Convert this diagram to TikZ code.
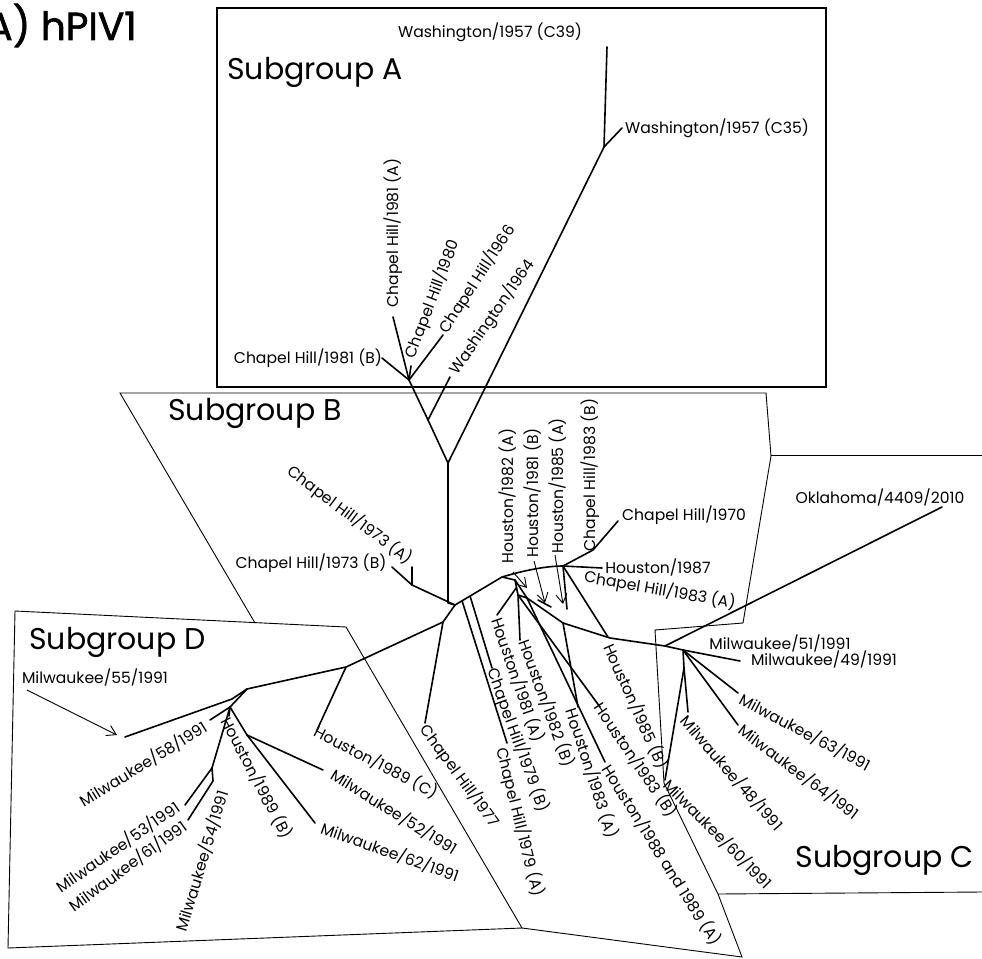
\documentclass[tikz,border=0pt]{standalone}
\usepackage{fontspec}
\setmainfont{Poppins}
\newfontfamily\titlefont{Poppins}[FakeBold=1.6]
\usetikzlibrary{arrows.meta,calc}
\begin{document}
\begin{tikzpicture}[x=1pt,y=-1pt,
  br/.style={line width=1.6pt,line cap=round,line join=round},
  poly/.style={line width=0.9pt,line join=miter},
  boxA/.style={line width=2.6pt},
  lab/.style={inner sep=0pt,font=\fontsize{15.6}{17}\selectfont},
  sg/.style={inner sep=0pt,anchor=base west,font=\fontsize{30}{34}\selectfont},
  arr/.style={line width=0.9pt,-{Straight Barb[length=9pt,width=11pt]}}]
\useasboundingbox (0,0) rectangle (982,958);
\fill[white] (0,0) rectangle (982,958);

% ---------- region outlines ----------
\draw[boxA] (217,8) rectangle (826,387);
\draw[poly] (255,623) -- (120,393) -- (766,393) -- (771,456) -- (743,623) -- (655,630) -- (664,783) -- (718,894) -- (742,957) -- (522,928);
\draw[poly] (771,455) -- (982,455);
\draw[poly] (718,894) -- (982,892);
\draw[poly] (15,611) -- (346,627) -- (522,928) -- (8,948) -- cycle;

% ---------- coordinates ----------
\coordinate (a39) at (607,47);
\coordinate (aW) at (604,147);
\coordinate (a35) at (622,128);
\coordinate (Y) at (448,463);
\coordinate (a64n) at (428,420);
\coordinate (a64) at (450,377);
\coordinate (aN) at (409,380);
\coordinate (a81B) at (382,358);
\coordinate (a81A) at (393,317);
\coordinate (a66) at (443,335);
\coordinate (a80) at (411,366);
\coordinate (c0top) at (448,603);
\coordinate (C0) at (455,605);
\coordinate (b73) at (412,585);
\coordinate (b73B) at (392,567);
\coordinate (b73A) at (412,567);
\coordinate (h1) at (502,577);
\coordinate (hN) at (563,566);
\coordinate (b83B) at (593,550);
\coordinate (b70) at (618,521);
\coordinate (h87) at (602,568);
\coordinate (h85A) at (567,609);
\coordinate (h85B) at (608,637);
\coordinate (hT1) at (515,580);
\coordinate (hT2) at (518,595);
\coordinate (hT3) at (527,598);
\coordinate (hM) at ($(hT1)!0.5!(hT2)$);
\coordinate (h81A) at (497,615);
\coordinate (h82B) at (520,640);
\coordinate (h83B) at (600,707);
\coordinate (h88) at (605,762);
\coordinate (m1) at (563,623);
\coordinate (h83A) at (578,707);
\coordinate (h81Ba) at (538,600);
\coordinate (h81Bb) at (551,607);
\coordinate (m2) at (610,638);
\coordinate (cN) at (665,646);
\coordinate (cN2) at (683,650);
\coordinate (okl) at (942,507);
\coordinate (m49) at (740,661);
\coordinate (m63) at (738,693);
\coordinate (m64) at (738,725);
\coordinate (cN3) at (684,668);
\coordinate (m48) at (688,712);
\coordinate (m60) at (665,780);
\coordinate (c79An) at ($(C0)!0.15!(h1)$);
\coordinate (c79Bn) at ($(C0)!0.32!(h1)$);
\coordinate (c79A) at (507,743);
\coordinate (c79B) at (492,668);
\coordinate (dN) at (443,622);
\coordinate (c77) at (425,723);
\coordinate (d89n) at (346,667);
\coordinate (d89C) at (317,730);
\coordinate (dD) at (247,689);
\coordinate (d1) at (232,699);
\coordinate (m55) at (125,737);
\coordinate (d2) at (230,707);
\coordinate (m58) at (210,720);
\coordinate (d3) at (212,768);
\coordinate (m53) at (185,805);
\coordinate (d4) at (213,781);
\coordinate (m61) at (188,820);
\coordinate (d5) at (247,735);
\coordinate (m62) at (315,823);
\coordinate (m52) at (323,770);
\coordinate (h89B) at (229,716);

% ---------- branches ----------
\draw[br] (a39) -- (aW) -- (Y);
\draw[br] (aW) -- (a35);
\draw[br] (Y) -- (a64n) -- (aN);
\draw[br] (a64n) -- (a64);
\draw[br] (aN) -- (a81B);
\draw[br] (aN) -- (a81A);
\draw[br] (aN) -- (a66);
\draw[br] (aN) -- (a80);
\draw[br] (Y) -- (c0top) -- (C0);
\draw[br] (C0) -- (b73) -- (b73B);
\draw[br] (b73) -- (b73A);
\draw[br] (C0) -- (h1) .. controls (522,571) and (545,566) .. (hN);
\draw[br] (hN) -- (b83B) -- (b70);
\draw[br] (hN) -- (h87);
\draw[br] (hN) -- (h85A);
\draw[br] (hN) -- (h85B);
\draw[br] (h1) -- (hT1) -- (hT3);
\draw[br] (hT1) -- (hT2) -- (hT3);
\draw[br] (hM) -- (h81A);
\draw[br] (hT2) -- (h82B);
\draw[br] (hT2) -- (h83B);
\draw[br] (hT3) -- (h88);
\draw[br] (hT3) -- (m1) -- (m2) -- (cN) -- (cN2);
\draw[br] (m1) -- (h83A);
\draw[br] (h81Ba) -- (h81Bb);
\draw[br] (cN) -- (okl);
\draw[br] (cN2) -- (m49);
\draw[br] (cN2) -- (m63);
\draw[br] (cN2) -- (m64);
\draw[br] (cN2) -- (cN3) -- (m48);
\draw[br] (cN3) -- (m60);
\draw[br] (c79An) -- (c79A);
\draw[br] (c79Bn) -- (c79B);
\draw[br] (C0) -- (dN) -- (c77);
\draw[br] (dN) -- (d89n) -- (dD);
\draw[br] (d89n) -- (d89C);
\draw[br] (dD) -- (d1) -- (m55);
\draw[br] (dD) -- (d2) -- (m58);
\draw[br] (d2) -- (d3) -- (m53);
\draw[br] (d3) -- (d4) -- (m61);
\draw[br] (d2) -- (d5) -- (m62);
\draw[br] (d5) -- (m52);
\draw[br] (d2) -- (h89B);

% ---------- arrows ----------
\coordinate (r1s) at (513,572); \coordinate (r1e) at (527,588);
\coordinate (r2s) at (534,561); \coordinate (r2e) at (545,603);
\coordinate (r3s) at (555,555); \coordinate (r3e) at (563,604);
\coordinate (r4s) at (27,690);  \coordinate (r4e) at (117,735);
\draw[arr] (r1s) -- (r1e);
\draw[arr] (r2s) -- (r2e);
\draw[arr] (r3s) -- (r3e);
\draw[arr] (r4s) -- (r4e);

% ---------- titles ----------
\node[inner sep=0pt,anchor=base east,font=\titlefont\fontsize{39}{42}\selectfont] (title) at (137,40) {A) hPIV1};
\node[sg] (sgA) at (227,80) {Subgroup A};
\node[sg] (sgB) at (168,420) {Subgroup B};
\node[sg,anchor=base east] (sgC) at (974,867) {Subgroup C};
\node[sg] (sgD) at (29,649) {Subgroup D};

% ---------- labels: subgroup A ----------
\node[lab] (tW39) at (490,32) {Washington/1957 (C39)};
\node[lab,anchor=west] (tW35) at (625,128) {Washington/1957 (C35)};
\node[lab,rotate=90] (tC81A) at (393,233) {Chapel Hill/1981 (A)};
\node[lab,rotate=69] (tC80) at (432,299) {Chapel Hill/1980};
\node[lab,rotate=57] (tC66) at (477,279) {Chapel Hill/1966};
\node[lab,rotate=55] (tW64) at (492,317) {Washington/1964};
\node[lab] (tC81B) at (308,358) {Chapel Hill/1981 (B)};

% ---------- labels: subgroup B ----------
\node[lab,rotate=-37] (tC73A) at (350,515) {Chapel Hill/1973 (A)};
\node[lab] (tC73B) at (311,563) {Chapel Hill/1973 (B)};
\node[lab,rotate=90] (tH82A) at (508,496) {Houston/1982 (A)};
\node[lab,rotate=90] (tH81B) at (533,493) {Houston/1981 (B)};
\node[lab,rotate=90] (tH85A) at (558,486) {Houston/1985 (A)};
\node[lab,rotate=90] (tC83B) at (590,475) {Chapel Hill/1983 (B)};
\node[lab] (tC70) at (684,515) {Chapel Hill/1970};
\node[lab] (tH87) at (658,567) {Houston/1987};
\node[lab,rotate=-10] (tC83A) at (660,590) {Chapel Hill/1983 (A)};
\node[lab,rotate=-71] (tH81A) at (518,680) {Houston/1981 (A)};
\node[lab,rotate=-70] (tH82B) at (547,703) {Houston/1982 (B)};
\node[lab,rotate=-70] (tC79B) at (518,740) {Chapel Hill/1979 (B)};
\node[lab,rotate=-76] (tC79A) at (520,822) {Chapel Hill/1979 (A)};
\node[lab,rotate=-72] (tH83A) at (592,773) {Houston/1983 (A)};
\node[lab,rotate=-56] (tH83B) at (636,760) {Houston/1983 (B)};
\node[lab,rotate=-58] (tH88) at (662,855) {Houston/1988 and 1989 (A)};
\node[lab,rotate=-66] (tH85B) at (636,706) {Houston/1985 (B)};
\node[lab,rotate=-54] (tC77) at (460,776) {Chapel Hill/1977};

% ---------- labels: subgroup C ----------
\node[lab] (tOK) at (880,497) {Oklahoma/4409/2010};
\node[lab] (tM51) at (780,643) {Milwaukee/51/1991};
\node[lab] (tM49) at (824,659) {Milwaukee/49/1991};
\node[lab,rotate=-28] (tM63) at (805,732) {Milwaukee/63/1991};
\node[lab,rotate=-37] (tM64) at (799,772) {Milwaukee/64/1991};
\node[lab,rotate=-49] (tM48) at (732,773) {Milwaukee/48/1991};
\node[lab,rotate=-45.5] (tM60) at (718,834) {Milwaukee/60/1991};

% ---------- labels: subgroup D ----------
\node[lab] (tM55) at (95,677) {Milwaukee/55/1991};
\node[lab,rotate=31.5] (tM58) at (143,764) {Milwaukee/58/1991};
\node[lab,rotate=34.6] (tM53) at (118,847) {Milwaukee/53/1991};
\node[lab,rotate=36] (tM61) at (128,866) {Milwaukee/61/1991};
\node[lab,rotate=73] (tM54) at (202,861) {Milwaukee/54/1991};
\node[lab,rotate=-62.4] (tH89B) at (257,778) {Houston/1989 (B)};
\node[lab,rotate=-27.5] (tH89C) at (376,762) {Houston/1989 (C)};
\node[lab,rotate=-32] (tM52) at (394,812) {Milwaukee/52/1991};
\node[lab,rotate=-19.6] (tM62) at (390,852) {Milwaukee/62/1991};
\end{tikzpicture}
\end{document}
